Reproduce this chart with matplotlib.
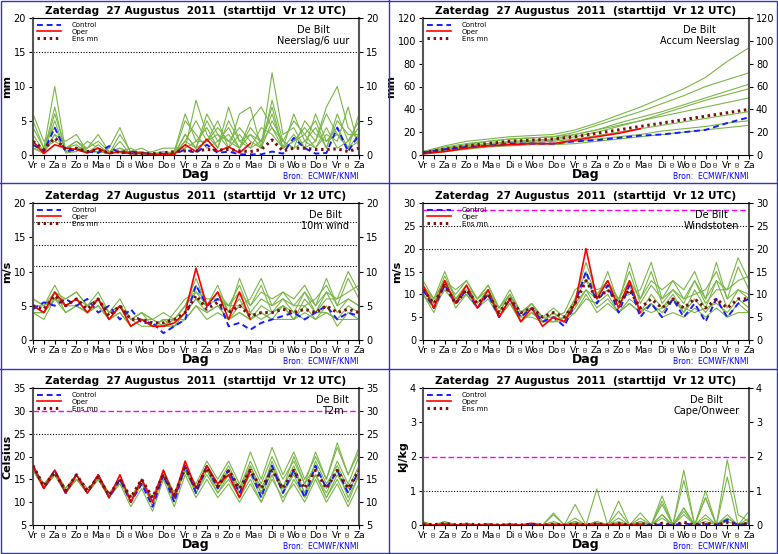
import matplotlib
matplotlib.use("Agg")
import matplotlib.pyplot as plt
from matplotlib.lines import Line2D
from matplotlib.patches import Rectangle

TITLE = "Zaterdag  27 Augustus  2011  (starttijd  Vr 12 UTC)"
DAYS = ["Vr", "Za", "Zo", "Ma", "Di", "Wo", "Do", "Vr", "Za", "Zo", "Ma", "Di", "Wo", "Do", "Vr", "Za"]
hours = list(range(0, 361, 12))          # 12-hourly
hours_daily = list(range(0, 361, 24))    # daily (accum)

# ---- precipitation per 6 h ----
precip_control = [1.5,0.5,4,0.5,0.8,0.5,0.3,1.3,0.2,0.5,0.3,0.1,0.2,0.1,0.8,0.3,1.5,0.3,0.5,0.1,0.1,0.1,0.5,0.2,2.5,1.0,0.2,0.3,4,0.5,3]
precip_oper = [2,0.2,1.5,1.0,0.8,0.3,1.0,0.2,0.5,0.2,0.3,0.1,0.1,0.1,1.5,0.5,2.3,0.5,1.2,0.3,1.7]
precip_mean = [2,0.8,2.5,0.8,1.0,0.5,0.8,0.3,0.5,0.3,0.2,0.2,0.3,0.5,0.6,0.6,0.8,0.7,0.8,0.6,0.5,0.8,2.2,0.6,1.0,1.0,0.8,0.8,0.9,0.5,1.0]
precip_members = [
    [3,0.5,6,1,2,0.5,1,0.3,1,0.2,0.5,0,0.1,0,3,1,5,2,4,1,3,2,6,1,2,3,5,1,6,2,4],
    [5,1,10,0.5,1,1,2,0.5,0.3,0.5,1,0.2,0,0.5,6,2,2,5,1,6,7,1,12,3,4,1,2,7,10,4,2],
    [1,0.2,3,2,3,0.5,0.5,1,4,0.2,0.3,0.5,1,1,1,8,3,1,7,2,1,4,3,1,6,2,1,3,2,7,1],
    [6,2,4,1,1.5,0.3,0.5,0.2,2,0,0.2,0.1,0,0.2,2,1,6,3,2,4,2,1,5,2,1,5,3,2,4,1,6],
    [2,0.5,7,0.3,0.5,2,1,0.3,0.5,1,0.1,0.2,0.5,0.3,5,3,1,2,3,1,5,7,4,1,3,1,6,2,3,1,2],
    [4,1,2,1,2,1,3,0.5,1,0.3,0.5,0,0.2,0.5,1,2,4,1,5,2,3,1,8,2,1,2,4,1,5,3,3],
    [2,0.3,5,0.5,1,0.5,0.5,0.2,3,0.5,0.3,0.1,0,0.1,2,5,2,3,1,3,1,2,4,2,5,3,1,4,1,2,5],
    [1,0.5,3,0.5,1,0.3,1.5,0.2,0.5,0.2,0.2,0.1,0.1,0.2,3,1,2,4,2,1,4,2,7,1,2,4,2,6,3,1,3],
]

# ---- accumulated precipitation (daily) ----
accum_control = [2,5,7,8,10,10,10,12,13,15,17,18,20,22,28,33]
accum_oper = [1,3,6,8,9,10,10,13,16,19,23]
accum_mean = [2,5,8,10,12,13,14,16,19,22,25,28,31,34,37,40]
accum_members = [
    [3,8,12,14,16,17,18,22,28,35,42,50,58,68,82,94],
    [2,6,9,12,14,15,16,20,26,32,38,45,52,60,66,72],
    [2,5,8,10,12,13,14,18,22,28,33,38,44,50,56,62],
    [3,7,10,12,14,15,16,18,22,26,30,34,38,42,46,50],
    [1,4,7,9,10,11,12,14,17,20,23,26,29,32,35,38],
    [2,4,6,8,9,10,10,12,14,16,18,21,23,25,28,30],
    [2,5,8,10,11,12,13,16,20,25,30,36,42,48,53,58],
    [1,3,5,7,8,9,9,10,12,14,16,18,20,22,24,26],
]

# ---- 10 m wind ----
wind_control = [4.5,5.5,5,6,5,6,4,5,3,4.5,2.5,2.5,1,2,3,8,5,6,2,2.5,1.5,2.5,3,3.5,4,3,4,5,3,4,3.5]
wind_oper = [5,4,7,5,6,4,6,3,5,2,3,2,2,2.5,4,10.5,5,7,3,7,3]
wind_mean = [5,4.5,6.5,5,6,4.5,6,3.5,5,3,3,2.5,2.5,3,4,6.5,4.5,5.5,4,5,3.5,4,4,4.5,4,4.5,4,5,4,4.5,4]
wind_members = [
    [5,4,7,5,6,4,6,3,5,3,4,2,3,3,5,9,5,7,4,6,3,5,4,5,3,6,4,7,4,6,5],
    [6,5,6,6,7,5,7,4,6,3,3,3,2,4,6,7,6,6,5,8,4,6,5,7,5,5,6,8,5,9,6],
    [4,4,7,4,5,4,5,3,4,2,3,2,3,2,4,6,4,5,3,4,3,4,3,3,3,4,3,4,3,3,3],
    [5,5,8,5,6,5,6,4,5,3,4,3,4,3,5,7,5,6,5,7,5,7,6,7,6,8,5,7,6,7,8],
    [4,3,6,5,5,4,5,3,5,3,2,2,2,3,3,5,4,5,3,5,4,3,4,5,4,3,4,4,3,5,4],
    [5,4,6,5,6,4,6,3,5,2,3,2,3,2,4,6,5,8,4,9,5,8,4,6,5,7,4,6,6,10,7],
    [6,5,7,6,7,5,6,4,5,3,4,3,2,3,5,8,5,7,5,5,6,9,5,6,4,7,5,9,5,6,5],
    [4,4,6,4,5,4,5,3,4,2,3,2,2,2,3,5,3,4,3,4,3,4,3,5,3,5,3,5,2,4,3],
]

# ---- gusts ----
gust_control = [11,7,12,8,11,7,10,5,9,5,7,4,5,3,8,15,8,12,6,12,5,8,5,9,5,8,4,9,5,8,9]
gust_oper = [12,7,13,8,12,7,11,5,9,4,7,3,5,4,8,20,9,13,7,13,6]
gust_mean = [11,8,12,8,11,8,10,6,9,6,7,5,6,5,8,13,9,11,8,11,7,9,7,9,7,9,7,9,7,9,9]
gust_members = [
    [12,8,14,9,12,8,11,6,10,5,8,4,6,4,9,17,10,13,7,12,6,10,7,10,6,11,7,13,7,11,10],
    [13,9,13,10,13,9,12,7,11,6,7,5,5,6,11,13,11,12,9,15,8,12,9,13,9,10,11,15,9,16,11],
    [10,7,13,7,10,7,9,5,8,4,6,4,6,4,7,11,7,9,6,8,6,8,5,6,5,7,5,7,5,6,6],
    [11,9,15,9,12,9,12,7,10,6,8,5,7,5,9,13,9,11,9,13,9,13,11,13,11,15,9,13,11,13,14],
    [10,6,12,9,10,7,10,5,9,5,5,4,4,5,6,9,8,10,6,9,7,6,7,9,7,6,7,8,6,9,7],
    [11,8,12,9,11,7,11,6,10,4,6,4,6,4,8,11,9,15,8,17,9,15,8,11,9,13,8,11,11,18,13],
    [12,9,13,11,13,9,11,7,10,6,8,5,4,5,9,15,10,13,9,10,11,17,9,11,8,13,9,17,9,11,9],
    [10,7,11,8,10,7,10,5,8,4,6,4,4,4,6,10,6,8,6,8,6,8,6,9,6,9,6,9,5,8,6],
]

# ---- 2 m temperature ----
t2m_control = [18,13,17,12,16,12,16,11,15,10,14,9,16,10,18,12,18,13,17,12,17,11,18,12,17,11,18,13,17,12,17]
t2m_oper = [18,13,17,12,16,12,16,11,16,10,15,10,17,11,19,13,18,14,16,11,17]
t2m_mean = [18,13.5,16.5,12.5,16,12.5,15.5,11.5,15,11,15,11,16,11.5,17.5,13,17.5,13.5,17,13,17,13,17,13,17,13,17,13,17,13,17]
t2m_members = [
    [18,13,17,12,16,12,16,11,15,10,15,10,17,11,18,13,18,14,17,12,18,12,19,13,18,12,19,14,18,13,18],
    [17,14,16,13,16,13,15,12,14,11,14,11,16,12,17,14,19,15,19,14,21,15,22,16,21,15,20,15,22,16,21],
    [18,13,16,12,15,12,15,11,14,9,13,8,15,9,16,11,15,11,14,10,14,10,15,11,14,10,15,10,14,9,14],
    [18,14,17,13,16,12,16,12,15,11,15,11,17,12,18,13,18,14,18,13,19,14,20,15,19,14,18,13,19,14,20],
    [17,13,16,12,16,12,15,11,15,10,14,10,16,11,17,12,17,13,16,12,16,11,17,12,17,12,16,12,17,11,16],
    [18,13,17,12,16,12,16,11,15,10,15,9,16,10,18,12,17,12,16,11,17,12,18,13,20,14,21,15,23,16,22],
    [18,13,17,13,16,12,16,11,15,10,14,10,16,11,17,13,18,13,17,13,18,13,18,12,16,11,16,11,16,12,17],
    [17,13,16,12,15,12,15,11,15,10,15,10,16,11,17,12,16,12,15,11,15,10,16,10,15,11,16,11,15,10,16],
]

# ---- CAPE ----
cape_control = [0,0,0,0,0,0,0,0,0,0,0,0,0,0,0,0,0,0,0,0,0,0,0.02,0,0.05,0,0.03,0,0.15,0,0.05]
cape_oper = [0.02,0,0.03,0,0.01,0,0.01,0,0.01,0,0.05,0,0.01,0,0.02,0,0.03,0,0.02,0,0.02]
cape_mean = [0.03,0.01,0.04,0.01,0.02,0.01,0.01,0,0.01,0,0.02,0,0.02,0,0.03,0,0.04,0,0.04,0,0.04,0,0.05,0,0.08,0,0.06,0,0.07,0,0.05]
cape_members = [
    [0.05,0,0.1,0,0.05,0,0,0,0,0,0,0,0.3,0,0.6,0,0.1,0,0.7,0,0,0,0.3,0,1.6,0,0.2,0,1.9,0.3,0.1],
    [0.1,0,0.05,0,0,0,0,0,0.05,0,0,0,0.35,0,0.2,0,1.05,0,0.2,0,0.35,0,0.85,0,0.5,0,1.0,0,0.2,0,0.4],
    [0,0,0.05,0,0.05,0,0,0,0,0,0.03,0,0.1,0,0.1,0,0.1,0,0.4,0,0.1,0,0.6,0,1.3,0,0.8,0,0.1,0,0.1],
    [0.05,0,0.1,0,0,0,0.05,0,0,0,0,0,0.05,0,0.05,0,0,0,0,0,0.2,0,0.3,0,0.4,0,0.3,0,0.3,0,0.2],
    [0.03,0,0.05,0,0.02,0,0,0,0,0,0.02,0,0.02,0,0.1,0,0.05,0,0.1,0,0.05,0,0.7,0,0.3,0,0.1,0,1.4,0,0.1],
    [0.02,0,0.02,0,0.03,0,0.02,0,0,0,0,0,0,0,0.05,0,0.02,0,0.05,0,0.1,0,0.2,0,0.5,0,0.8,0,0.2,0,0.05],
]

GREEN = "#7ab648"
BLUE = "#1a1aff"


def draw_panel(ax, x, members, control, oper, mean, ylim, yticks, ylabel, label,
               dotted=(), magenta=None):
    for m in members:
        ax.plot(x, m, color=GREEN, lw=0.8, zorder=2)
    ax.plot(x, control, color=BLUE, lw=1.4, ls=(0, (3, 2)), zorder=4, label="Control")
    ax.plot(x[:len(oper)], oper, color="red", lw=1.2, zorder=5, label="Oper")
    ax.plot(x, mean, color="#7b1010", lw=2.2, ls=(0, (0.8, 1.2)), zorder=6, label="Ens mn")
    for y in dotted:
        ax.axhline(y, color="black", lw=0.8, ls=(0, (1, 1.5)), zorder=1)
    if magenta is not None:
        ax.axhline(magenta, color="magenta", lw=1.0, ls=(0, (4, 2)), zorder=1)
    ax.set_xlim(0, 360)
    ax.set_ylim(*ylim)
    ax.set_yticks(yticks)
    ax.tick_params(axis="y", labelsize=7, right=True, labelright=True, length=3, pad=2)
    ticks = list(range(0, 361, 12))
    labels = [DAYS[i // 2] if i % 2 == 0 else "00" for i in range(len(ticks))]
    ax.set_xticks(ticks)
    ax.set_xticklabels(labels)
    for i, tl in enumerate(ax.get_xticklabels()):
        if i % 2:
            tl.set_rotation(90)
            tl.set_fontsize(3.5)
            tl.set_va("top")
        else:
            tl.set_fontsize(6.5)
    ax.tick_params(axis="x", length=3, pad=1)
    ax.set_xlabel("Dag", fontsize=9, fontweight="bold", labelpad=-1)
    ax.set_ylabel(ylabel, fontsize=8, fontweight="bold", labelpad=1)
    ax.set_title(TITLE, fontsize=7.5, fontweight="bold", pad=3)
    for s in ("left", "right"):
        ax.spines[s].set_linewidth(1.5)
        ax.spines[s].set_color("#555555")
    ax.text(0.97, 0.95, "De Bilt\n" + label, transform=ax.transAxes, ha="right", va="top",
            fontsize=7, multialignment="center")
    ax.legend(loc="upper left", fontsize=5, frameon=False, handlelength=3.5,
              borderaxespad=0.2, labelspacing=0.1, handletextpad=1.5)
    ax.text(1.0, -0.12, "Bron:  ECMWF/KNMI", transform=ax.transAxes, ha="right", va="top",
            fontsize=5.5, color="blue")


fig = plt.figure(figsize=(7.78, 5.54), dpi=100)
lefts = [33 / 778, 423 / 778]
width = 326 / 778
bottoms = [1 - 155 / 554, 1 - 340 / 554, 1 - 525 / 554]
height = 137 / 554
axs = [[fig.add_axes([l, b, width, height]) for l in lefts] for b in bottoms]

draw_panel(axs[0][0], hours, precip_members, precip_control, precip_oper, precip_mean,
           (0, 20), range(0, 21, 5), "mm", "Neerslag/6 uur", dotted=(15,))
draw_panel(axs[0][1], hours_daily, accum_members, accum_control, accum_oper, accum_mean,
           (0, 120), range(0, 121, 20), "mm", "Accum Neerslag")
draw_panel(axs[1][0], hours, wind_members, wind_control, wind_oper, wind_mean,
           (0, 20), range(0, 21, 5), "m/s", "10m wind", dotted=(10.8, 13.9, 17.2))
draw_panel(axs[1][1], hours, gust_members, gust_control, gust_oper, gust_mean,
           (0, 30), range(0, 31, 5), "m/s", "Windstoten", dotted=(20, 25), magenta=28.5)
draw_panel(axs[2][0], hours, t2m_members, t2m_control, t2m_oper, t2m_mean,
           (5, 35), range(5, 36, 5), "Celsius", "T2m", dotted=(25,), magenta=30)
draw_panel(axs[2][1], hours, cape_members, cape_control, cape_oper, cape_mean,
           (0, 4), range(0, 5, 1), "kJ/kg", "Cape/Onweer", dotted=(1,), magenta=2)

# panel separators
for y in (1 - 183 / 554, 1 - 369 / 554):
    fig.add_artist(Line2D([0, 1], [y, y], color="#3333cc", lw=1, transform=fig.transFigure))
fig.add_artist(Line2D([0.5, 0.5], [0, 1], color="#3333cc", lw=1, transform=fig.transFigure))
fig.add_artist(Rectangle((0.001, 0.001), 0.998, 0.998, fill=False, ec="#3333cc", lw=1,
                         transform=fig.transFigure))

fig.savefig("out.png", dpi=100)
